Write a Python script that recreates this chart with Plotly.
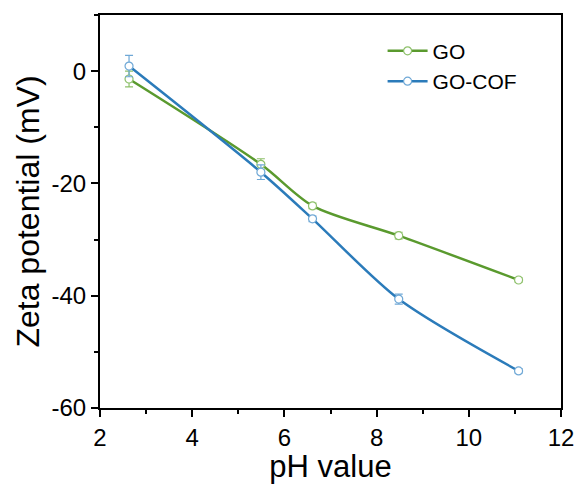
import plotly.graph_objects as go

ph = [2.63, 5.49, 6.61, 8.48, 11.08]
go_vals = [-1.4, -16.6, -24.0, -29.3, -37.2]
go_err = [1.4, 1.0, 0.5, 0.6, 0.4]
cof_vals = [0.9, -18.0, -26.3, -40.6, -53.4]
cof_err = [1.9, 1.3, 0.5, 0.9, 0.4]

x_ticks = [2, 4, 6, 8, 10, 12]
x_labels = ["2", "4", "6", "8", "10", "12"]
y_ticks = [-60, -40, -20, 0]
y_labels = ["-60", "-40", "-20", "0"]

green = "#5A9A2E"
blue = "#2B7BBA"
green_l = "#8DC06A"
blue_l = "#6FA8D6"
FONT = "Liberation Sans, Arial"

fig = go.Figure()
for name, y, err, col, lcol in [("GO", go_vals, go_err, green, green_l),
                                 ("GO-COF", cof_vals, cof_err, blue, blue_l)]:
    fig.add_trace(go.Scatter(
        x=ph, y=y, name=name, mode="lines+markers",
        line=dict(color=col, width=2.5, shape="spline", smoothing=0.8),
        marker=dict(symbol="circle", size=8, color="white",
                    line=dict(color=lcol, width=1.2)),
        error_y=dict(type="data", array=err, visible=True, color=lcol,
                     thickness=1.2, width=4),
    ))

axis_common = dict(
    showline=True, linecolor="black", linewidth=2, mirror=True,
    ticks="outside", ticklen=7, tickwidth=1.5, tickcolor="black",
    showgrid=False, zeroline=False, automargin=False,
    tickfont=dict(family=FONT, size=24, color="black"),
)

fig.update_xaxes(range=[2, 12], tickmode="array", tickvals=x_ticks, ticktext=x_labels,
                 minor=dict(ticks="outside", ticklen=4, tickwidth=1.5, tickcolor="black",
                            tickmode="linear", tick0=2, dtick=1),
                 title=dict(text="pH value", font=dict(family=FONT, size=31, color="black"),
                            standoff=0),
                 **axis_common)
fig.update_yaxes(range=[-60, 10], tickmode="array", tickvals=y_ticks, ticktext=y_labels,
                 minor=dict(ticks="outside", ticklen=4, tickwidth=1.5, tickcolor="black",
                            tickmode="linear", tick0=0, dtick=10),
                 title=dict(text="Zeta potential (mV)", font=dict(family=FONT, size=32, color="black"),
                            standoff=2),
                 **axis_common)

fig.update_layout(
    width=582, height=484,
    margin=dict(l=100, r=21, t=15, b=76),
    plot_bgcolor="white", paper_bgcolor="white",
    showlegend=True,
    legend=dict(x=0.613, y=0.96, xanchor="left", yanchor="top",
                font=dict(family=FONT, size=21, color="black"),
                bgcolor="rgba(0,0,0,0)", tracegroupgap=0, itemwidth=40),
)

fig.write_html("out.html")
